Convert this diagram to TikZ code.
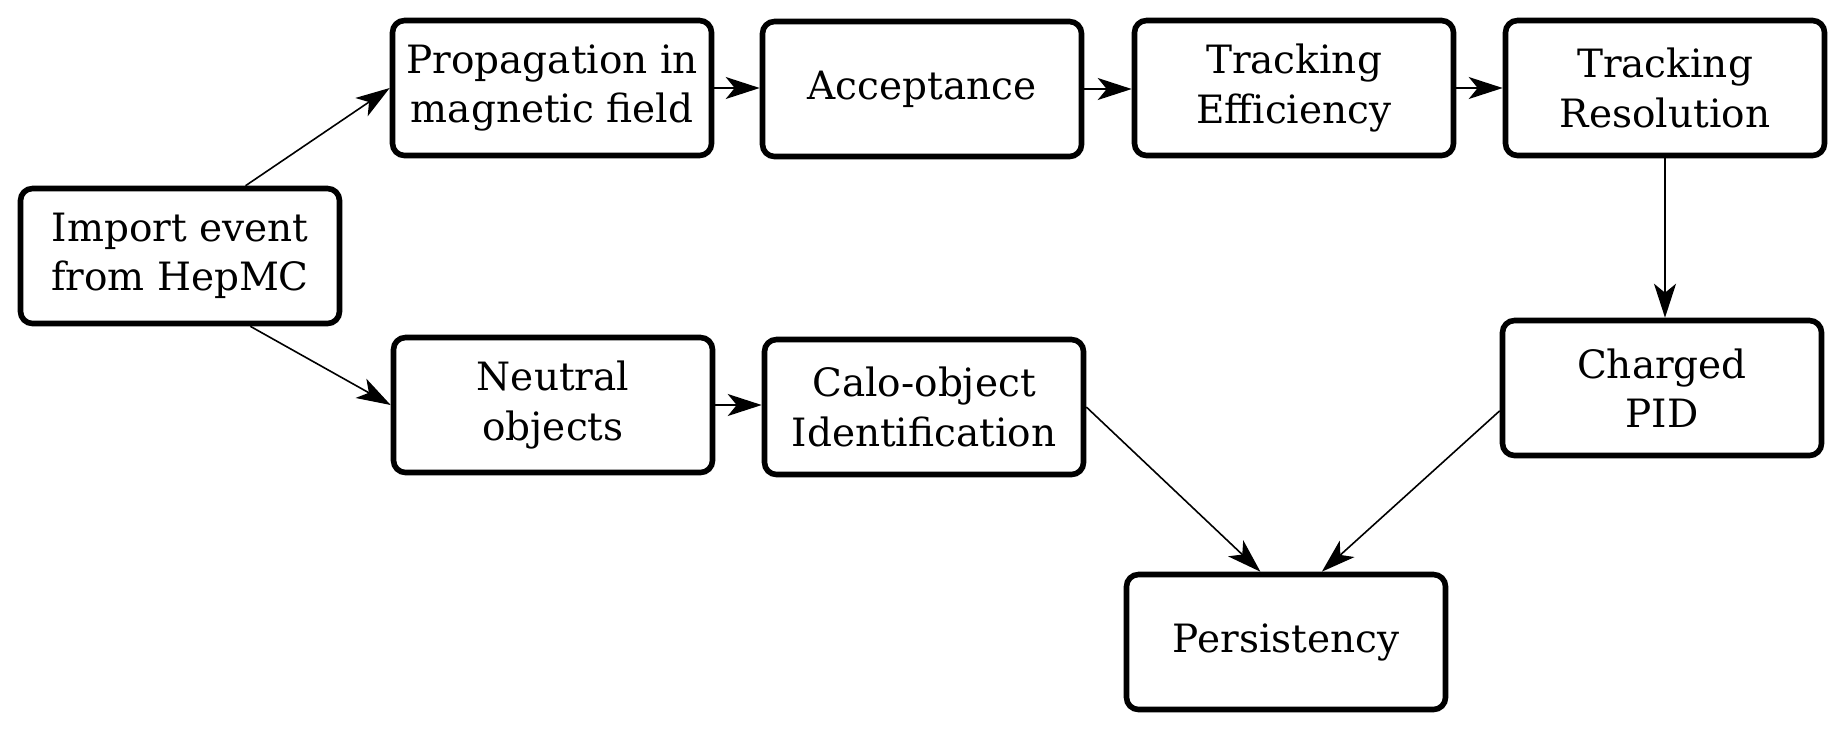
\documentclass[tikz,border=0pt]{standalone}
\usepackage{fontspec}
\setmainfont{DejaVu Serif}
\usetikzlibrary{arrows.meta}
\begin{document}
\begin{tikzpicture}[x=0.5pt,y=-0.5pt,
  box/.style={draw=black,line width=2.8pt,rounded corners=6pt,fill=white,
    minimum width=159.5pt,minimum height=67.5pt,inner sep=0pt,align=center,
    font=\fontsize{19.5}{24.7}\selectfont},
  conn/.style={line width=0.8pt,-{Stealth[length=17pt,width=11pt,inset=4.5pt]}}]
\useasboundingbox (0,0) rectangle (1846,730);
\node[box] (imp)  at (180,256)  {Import event\\from HepMC};
\node[box] (prop) at (552,88)   {Propagation in\\magnetic field};
\node[box] (acc)  at (922,89)   {Acceptance};
\node[box] (teff) at (1294,88)  {Tracking\\Efficiency};
\node[box] (tres) at (1665,88)  {Tracking\\Resolution};
\node[box] (neu)  at (553,405)  {Neutral\\objects};
\node[box] (calo) at (924,407)  {Calo-object\\Identification};
\node[box] (ch)   at (1662,388) {Charged\\PID};
\node[box] (pers) at (1286,642) {Persistency};
\draw[conn] (imp.47.7) -- (prop.west);
\draw[conn] (imp.-45) -- (neu.west);
\draw[conn] (prop.east) -- (prop.east -| acc.west);
\draw[conn] (acc.east) -- (acc.east -| teff.west);
\draw[conn] (teff.east) -- (teff.east -| tres.west);
\draw[conn] (tres.south) -- (tres.south |- ch.north);
\draw[conn] (neu.east) -- (neu.east -| calo.west);
\draw[conn] (calo.east) -- (pers.110);
\draw[conn] (ch.188) -- (pers.63);
\end{tikzpicture}
\end{document}
